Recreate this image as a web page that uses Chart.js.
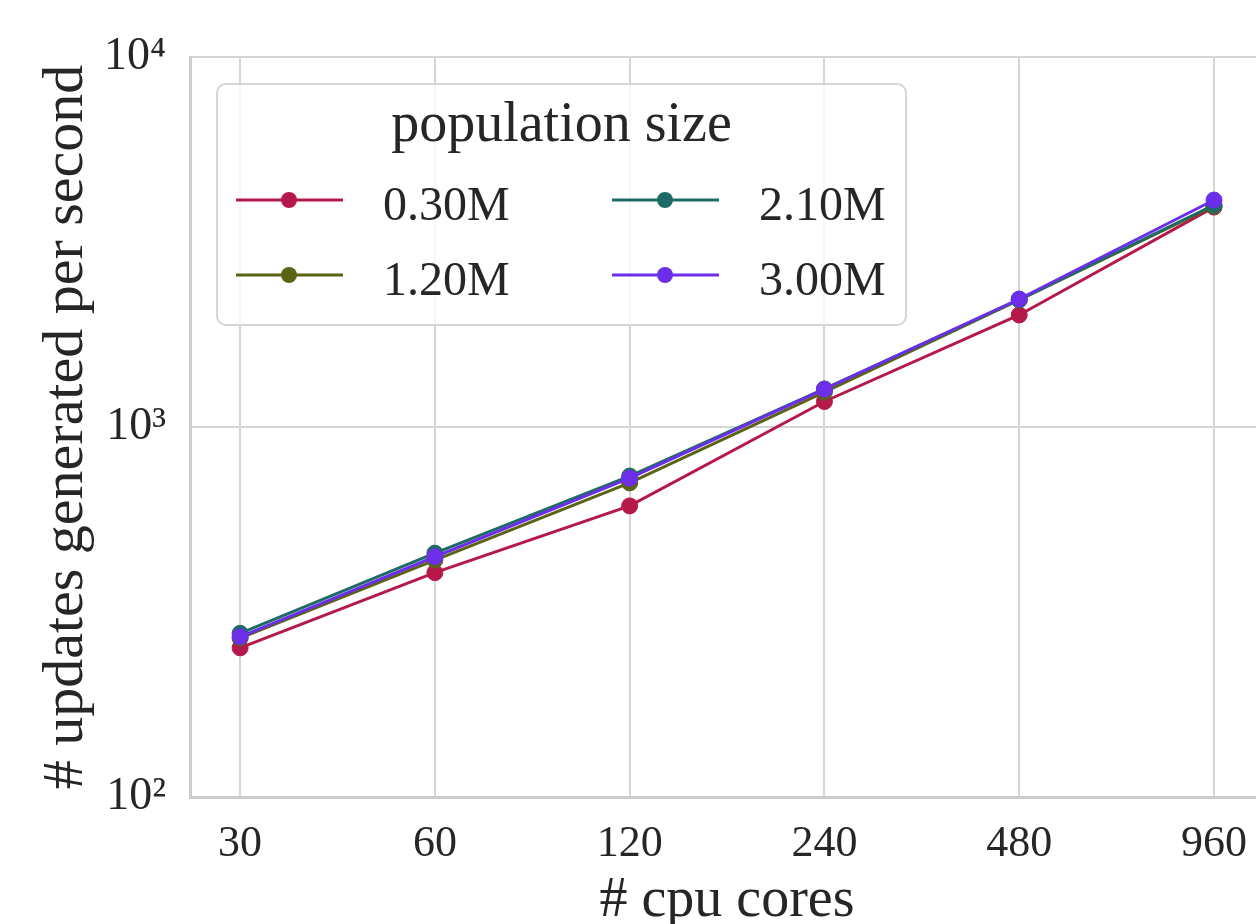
<!DOCTYPE html>
<html>
<head>
<meta charset="utf-8">
<script src="https://cdn.jsdelivr.net/npm/chart.js@4"></script>
<style>
  html, body { margin: 0; padding: 0; background: #ffffff; overflow: hidden; }
  #wrap { width: 1256px; height: 924px; overflow: hidden; }
</style>
</head>
<body>
<div id="wrap"><canvas id="c" width="1273" height="924"></canvas></div>
<script>
// ---- data ----
const cores = [30, 60, 120, 240, 480, 960];
const pop030 = [253, 404, 612, 1172, 2008, 3930];
const pop120 = [269, 437, 706, 1243, 2204, 3957];
const pop210 = [277, 456, 737, 1267, 2210, 3981];
const pop300 = [271, 446, 727, 1265, 2218, 4106];
const seriesLabels = ['0.30M', '1.20M', '2.10M', '3.00M'];
const seriesColors = ['#b5194a', '#5b6315', '#1d6b64', '#6c2ee8'];
const yTicks = [100, 1000, 10000];
const xTitle = '# cpu cores';
const yTitle = '# updates generated per second';
const legendTitle = 'population size';

const FONT = '"Liberation Serif", "Times New Roman", serif';
const TXT = '#262626';
const SUP = {'0':'⁰','1':'¹','2':'²','3':'³','4':'⁴','5':'⁵','6':'⁶','7':'⁷','8':'⁸','9':'⁹'};

function toPoints(arr) { return cores.map((c, i) => ({x: c, y: arr[i]})); }
const allSeries = [pop030, pop120, pop210, pop300];

const datasets = allSeries.map((arr, i) => ({
  label: seriesLabels[i],
  data: toPoints(arr),
  borderColor: seriesColors[i],
  backgroundColor: seriesColors[i],
  pointBackgroundColor: seriesColors[i],
  pointBorderColor: seriesColors[i],
  borderWidth: 3,
  pointRadius: 8,
  pointHoverRadius: 8,
  pointBorderWidth: 1,
  tension: 0,
  order: allSeries.length - 1 - i
}));

const legendPlugin = {
  id: 'popLegend',
  afterDatasetsDraw(chart) {
    const {ctx, chartArea: a} = chart;
    const bx = a.left + 27, by = a.top + 27, bw = 689, bh = 241, r = 9;
    ctx.save();
    ctx.beginPath();
    ctx.moveTo(bx + r, by);
    ctx.arcTo(bx + bw, by, bx + bw, by + bh, r);
    ctx.arcTo(bx + bw, by + bh, bx, by + bh, r);
    ctx.arcTo(bx, by + bh, bx, by, r);
    ctx.arcTo(bx, by, bx + bw, by, r);
    ctx.closePath();
    ctx.fillStyle = 'rgba(255,255,255,0.8)';
    ctx.fill();
    ctx.lineWidth = 2;
    ctx.strokeStyle = '#d6d6d6';
    ctx.stroke();

    ctx.fillStyle = TXT;
    ctx.font = '56px ' + FONT;
    ctx.textAlign = 'center';
    ctx.textBaseline = 'alphabetic';
    ctx.fillText(legendTitle, bx + bw / 2, by + 57);

    chart.data.datasets.forEach((ds, i) => {
      const col = Math.floor(i / 2), row = i % 2;
      const x0 = bx + 19 + col * 376;
      const cy = by + 116 + row * 75;
      ctx.strokeStyle = ds.borderColor;
      ctx.lineWidth = 3;
      ctx.beginPath();
      ctx.moveTo(x0, cy);
      ctx.lineTo(x0 + 107, cy);
      ctx.stroke();
      ctx.fillStyle = ds.borderColor;
      ctx.beginPath();
      ctx.arc(x0 + 53, cy, 8, 0, Math.PI * 2);
      ctx.fill();
      ctx.fillStyle = TXT;
      ctx.font = '48px ' + FONT;
      ctx.textAlign = 'left';
      ctx.fillText(ds.label, x0 + 147, cy + 20);
    });
    ctx.restore();
  }
};

new Chart(document.getElementById('c'), {
  type: 'line',
  data: { datasets },
  options: {
    responsive: false,
    animation: false,
    devicePixelRatio: 1,
    layout: { padding: { top: 57, right: 0, left: 0, bottom: 0 } },
    plugins: { legend: { display: false }, tooltip: { enabled: false } },
    scales: {
      x: {
        type: 'logarithmic',
        min: 25.1,
        max: 1147,
        afterBuildTicks: (s) => { s.ticks = cores.map(v => ({value: v})); },
        afterFit: (s) => { s.height = 127; },
        ticks: {
          autoSkip: false,
          maxRotation: 0,
          padding: 21,
          color: TXT,
          font: { family: FONT, size: 44 },
          callback: (v) => String(v)
        },
        grid: { color: '#d5d5d5', lineWidth: 2, drawTicks: false },
        border: { color: '#cccccc', width: 3 },
        title: {
          display: true, text: xTitle, color: TXT,
          font: { family: FONT, size: 56, lineHeight: 0.8 },
          padding: { top: 0, bottom: 0 }
        }
      },
      y: {
        type: 'logarithmic',
        min: 100,
        max: 10000,
        afterBuildTicks: (s) => { s.ticks = yTicks.map(v => ({value: v})); },
        afterFit: (s) => { s.width = 190; },
        ticks: {
          padding: 24,
          color: TXT,
          font: { family: FONT, size: 46 },
          callback: (v) => '10' + String(Math.round(Math.log10(v))).split('').map(d => SUP[d]).join('')
        },
        grid: { color: '#d5d5d5', lineWidth: 2, drawTicks: false },
        border: { color: '#cccccc', width: 3 },
        title: {
          display: true, text: yTitle, color: TXT,
          font: { family: FONT, size: 58, lineHeight: 1 },
          padding: { top: 38, bottom: 0 }
        }
      }
    }
  },
  plugins: [legendPlugin]
});
</script>
</body>
</html>
